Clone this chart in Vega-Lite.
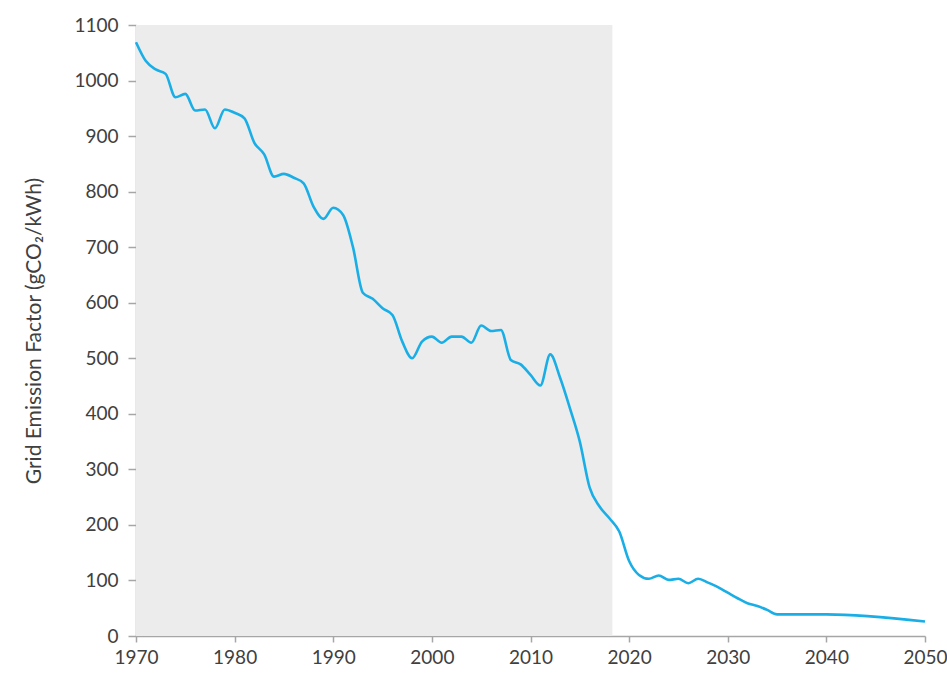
{
  "$schema": "https://vega.github.io/schema/vega-lite/v6.json",
  "width": 789,
  "height": 611,
  "autosize": "none",
  "padding": {"left": 136, "top": 25, "right": 22, "bottom": 39},
  "background": "white",
  "config": {"view": {"stroke": null}, "font": "Lato"},
  "datasets": {
    "shade": [{"start": 1970, "end": 2018.3, "low": 0, "high": 1100}],
    "series": [
      {"year": 1970, "ef": 1069}, {"year": 1971, "ef": 1035}, {"year": 1972, "ef": 1020}, {"year": 1973, "ef": 1012},
      {"year": 1974, "ef": 970}, {"year": 1975, "ef": 976}, {"year": 1976, "ef": 946}, {"year": 1977, "ef": 948},
      {"year": 1978, "ef": 914}, {"year": 1979, "ef": 948}, {"year": 1980, "ef": 942}, {"year": 1981, "ef": 932},
      {"year": 1982, "ef": 888}, {"year": 1983, "ef": 867}, {"year": 1984, "ef": 827}, {"year": 1985, "ef": 832},
      {"year": 1986, "ef": 825}, {"year": 1987, "ef": 815}, {"year": 1988, "ef": 773}, {"year": 1989, "ef": 751},
      {"year": 1990, "ef": 771}, {"year": 1991, "ef": 758}, {"year": 1992, "ef": 700}, {"year": 1993, "ef": 618},
      {"year": 1994, "ef": 607}, {"year": 1995, "ef": 590}, {"year": 1996, "ef": 578}, {"year": 1997, "ef": 530},
      {"year": 1998, "ef": 500}, {"year": 1999, "ef": 530}, {"year": 2000, "ef": 539}, {"year": 2001, "ef": 528},
      {"year": 2002, "ef": 539}, {"year": 2003, "ef": 539}, {"year": 2004, "ef": 528}, {"year": 2005, "ef": 559},
      {"year": 2006, "ef": 549}, {"year": 2007, "ef": 551}, {"year": 2008, "ef": 497}, {"year": 2009, "ef": 489},
      {"year": 2010, "ef": 470}, {"year": 2011, "ef": 451}, {"year": 2012, "ef": 507}, {"year": 2013, "ef": 465},
      {"year": 2014, "ef": 410}, {"year": 2015, "ef": 350}, {"year": 2016, "ef": 267}, {"year": 2017, "ef": 233},
      {"year": 2018, "ef": 212}, {"year": 2019, "ef": 188}, {"year": 2020, "ef": 135}, {"year": 2021, "ef": 110},
      {"year": 2022, "ef": 103}, {"year": 2023, "ef": 109}, {"year": 2024, "ef": 101}, {"year": 2025, "ef": 103},
      {"year": 2026, "ef": 95}, {"year": 2027, "ef": 103}, {"year": 2028, "ef": 96}, {"year": 2029, "ef": 88},
      {"year": 2030, "ef": 78}, {"year": 2031, "ef": 68}, {"year": 2032, "ef": 59}, {"year": 2033, "ef": 54},
      {"year": 2034, "ef": 47}, {"year": 2035, "ef": 39}, {"year": 2040, "ef": 39}, {"year": 2050, "ef": 26}
    ]
  },
  "layer": [
    {
      "data": {"name": "shade"},
      "mark": {"type": "rect", "color": "#ececec"},
      "encoding": {
        "x": {"field": "start", "type": "quantitative", "scale": {"domain": [1970, 2050], "nice": false, "zero": false}},
        "x2": {"field": "end"},
        "y": {"field": "low", "type": "quantitative", "scale": {"domain": [0, 1100], "nice": false}},
        "y2": {"field": "high"}
      }
    },
    {
      "data": {"name": "series"},
      "mark": {"type": "line", "color": "#1aaee6", "strokeWidth": 2.6, "interpolate": "monotone"},
      "encoding": {
        "x": {
          "field": "year", "type": "quantitative",
          "scale": {"domain": [1970, 2050], "nice": false, "zero": false},
          "axis": {
            "title": null, "values": [1970, 1980, 1990, 2000, 2010, 2020, 2030, 2040, 2050], "format": "d",
            "labelFlush": false, "labelOverlap": false,
            "grid": false, "domainColor": "#a6a6a6", "domainWidth": 1.5, "tickColor": "#a6a6a6", "tickWidth": 1.5, "tickSize": 6,
            "labelFontSize": 19, "labelColor": "#404040", "labelPadding": 6, "labelFont": "Lato"
          }
        },
        "y": {
          "field": "ef", "type": "quantitative",
          "scale": {"domain": [0, 1100], "nice": false},
          "axis": {
            "title": "Grid Emission Factor (gCO₂/kWh)", "titleFontSize": 21, "titleFontWeight": "normal", "titleColor": "#404040",
            "titleFont": "Lato", "titlePadding": 29,
            "values": [0, 100, 200, 300, 400, 500, 600, 700, 800, 900, 1000, 1100], "format": "d",
            "labelFlush": false, "labelOverlap": false,
            "grid": false, "domainColor": "#a6a6a6", "domainWidth": 1.5, "tickColor": "#a6a6a6", "tickWidth": 1.5, "tickSize": 8,
            "labelFontSize": 19, "labelColor": "#404040", "labelPadding": 10, "labelFont": "Lato"
          }
        }
      }
    }
  ]
}
